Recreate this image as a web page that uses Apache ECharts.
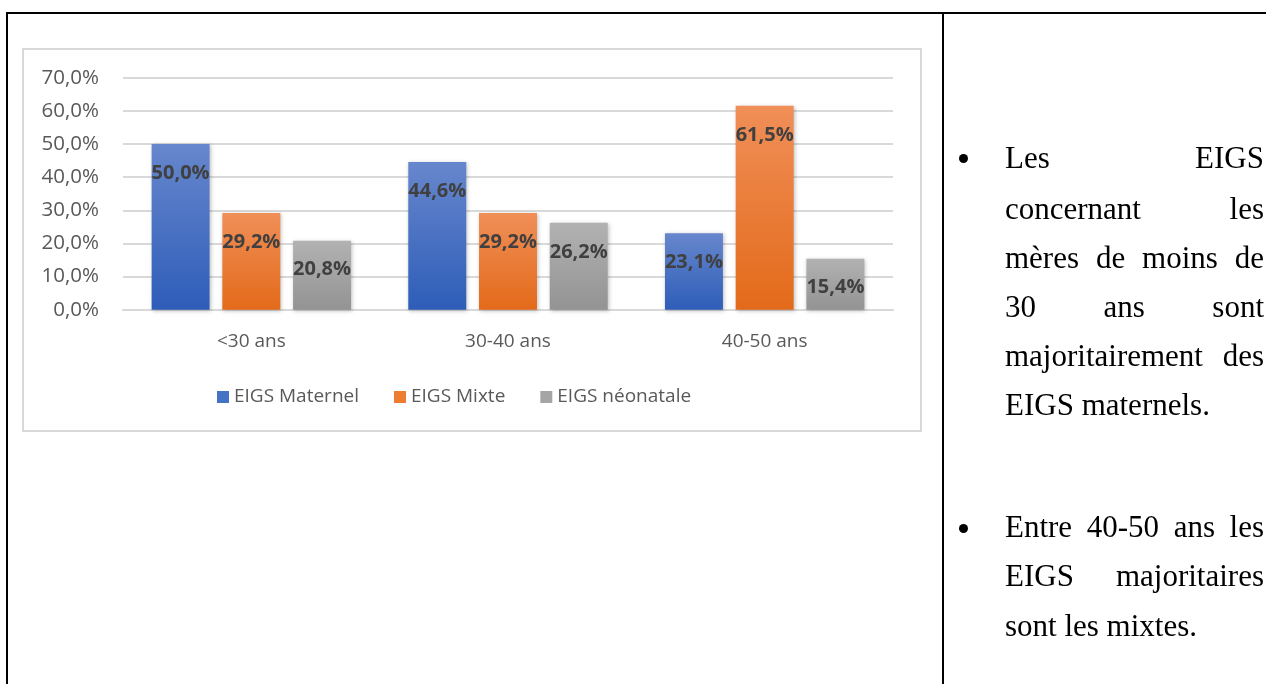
<!DOCTYPE html>
<html>
<head>
<meta charset="utf-8">
<script src="https://cdn.jsdelivr.net/npm/echarts@6/dist/echarts.min.js"></script>
<style>
  html, body { margin: 0; padding: 0; background: #fff; }
  body { width: 1266px; height: 684px; position: relative; overflow: hidden; }
  .hline, .vline { position: absolute; background: #000; }
  #frame { position: absolute; left: 22px; top: 48px; width: 900px; height: 384px; box-sizing: border-box; border: 2px solid #d9d9d9; }
  #chart { position: absolute; left: 0; top: 0; width: 1266px; height: 684px; }
  .ln { position: absolute; left: 1005px; width: 259px; font-family: "Liberation Serif", "Times New Roman", serif; font-size: 31px; line-height: 31px; white-space: nowrap; color: #000; }
  .j { text-align: justify; text-align-last: justify; }
  .dot { position: absolute; width: 9px; height: 9px; border-radius: 50%; background: #000; }
</style>
</head>
<body>
<div class="hline" style="left:6px; top:12px; width:1260px; height:2px;"></div>
<div class="vline" style="left:6px; top:12px; width:2px; height:672px;"></div>
<div class="vline" style="left:942px; top:12px; width:2px; height:672px;"></div>
<div id="frame"></div>
<div id="chart"></div>

<div class="dot" style="left:959px; top:154px;"></div>
<div class="ln j" style="top:142px;">Les EIGS</div>
<div class="ln j" style="top:193px;">concernant les</div>
<div class="ln j" style="top:242px;">mères de moins de</div>
<div class="ln j" style="top:291px;">30 ans sont</div>
<div class="ln j" style="top:340px;">majoritairement des</div>
<div class="ln" style="top:389px;">EIGS maternels.</div>

<div class="dot" style="left:959px; top:524px;"></div>
<div class="ln j" style="top:511px;">Entre 40-50 ans les</div>
<div class="ln j" style="top:560px;">EIGS majoritaires</div>
<div class="ln" style="top:610px;">sont les mixtes.</div>

<script>
const categories = ['<30 ans', '30-40 ans', '40-50 ans'];
const seriesNames = ['EIGS Maternel', 'EIGS Mixte', 'EIGS néonatale'];
const maternel = [50.0, 44.6, 23.1];
const mixte = [29.2, 29.2, 61.5];
const neonatale = [20.8, 26.2, 15.4];
const yTicks = [0, 10, 20, 30, 40, 50, 60, 70];

const chart = echarts.init(document.getElementById('chart'), null, { renderer: 'canvas' });
const fmt = v => v.toFixed(1).replace('.', ',') + '%';
const grad = (top, bottom) => new echarts.graphic.LinearGradient(0, 0, 0, 1, [
  { offset: 0, color: top }, { offset: 1, color: bottom }
]);
const FONT = '"Open Sans", "Liberation Sans", sans-serif';
const makeSeries = (name, data, top, bottom) => ({
  name: name,
  type: 'bar',
  data: data,
  barGap: '22%',
  barCategoryGap: '22.3%',
  itemStyle: {
    color: grad(top, bottom),
    shadowBlur: 4,
    shadowColor: 'rgba(0,0,0,0.25)',
    shadowOffsetX: 1,
    shadowOffsetY: 1
  },
  label: {
    show: true,
    position: 'insideTop',
    distance: 19,
    formatter: p => fmt(p.value),
    fontFamily: FONT,
    fontWeight: 'bold',
    fontSize: 20,
    lineHeight: 20,
    color: '#404040'
  }
});

chart.setOption({
  animation: false,
  textStyle: { fontFamily: FONT },
  grid: { left: 123, right: 373, top: 77.7, bottom: 374.3, containLabel: false },
  legend: {
    data: seriesNames.map((n, i) => ({ name: n, itemStyle: { color: ['#4472c4', '#ed7d31', '#a5a5a5'][i] } })),
    left: 212,
    top: 382,
    icon: 'rect',
    itemWidth: 12,
    itemHeight: 12,
    itemGap: 35,
    textStyle: { fontFamily: FONT, fontSize: 19, color: '#595959', lineHeight: 20 }
  },
  xAxis: {
    type: 'category',
    data: categories,
    axisLine: { show: true, lineStyle: { color: '#d9d9d9', width: 2 } },
    axisTick: { show: false },
    axisLabel: { margin: 22, fontFamily: FONT, fontSize: 19, color: '#595959' }
  },
  yAxis: {
    type: 'value',
    min: yTicks[0],
    max: yTicks[yTicks.length - 1],
    interval: 10,
    axisLine: { show: false },
    axisTick: { show: false },
    splitLine: { lineStyle: { color: '#d9d9d9', width: 2 } },
    axisLabel: { margin: 24, fontFamily: FONT, fontSize: 20.5, color: '#595959', formatter: v => fmt(v) }
  },
  series: [
    makeSeries(seriesNames[0], maternel, '#6787cd', '#2e5db8'),
    makeSeries(seriesNames[1], mixte, '#f08f58', '#e36a1a'),
    makeSeries(seriesNames[2], neonatale, '#b2b2b2', '#939393')
  ]
});
</script>
</body>
</html>
